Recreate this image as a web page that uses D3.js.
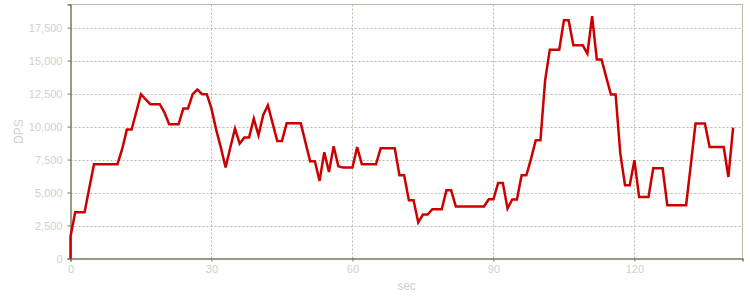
<!DOCTYPE html>
<html>
<head>
<meta charset="utf-8">
<script src="https://cdn.jsdelivr.net/npm/d3@7"></script>
<style>
  html, body { margin: 0; padding: 0; background: #ffffff; }
  svg { display: block; }
  text { font-family: "Liberation Sans", Arial, sans-serif; }
</style>
</head>
<body>
<svg id="chart" width="750" height="300"></svg>
<script>
// ---- data ----
const seconds = [0, 0, 1, 2, 3, 4, 5, 6, 7, 8, 9, 10, 11, 12, 13, 14, 15, 16, 17, 18, 19,
  20, 21, 22, 23, 24, 25, 26, 27, 28, 29, 30, 31, 32, 33, 34, 35, 36, 37, 38, 39,
  40, 41, 42, 43, 44, 45, 46, 47, 48, 49, 50, 51, 52, 53, 54, 55, 56, 57, 58, 59,
  60, 61, 62, 63, 64, 65, 66, 67, 68, 69, 70, 71, 72, 73, 74, 75, 76, 77, 78, 79,
  80, 81, 82, 83, 84, 85, 86, 87, 88, 89, 90, 91, 92, 93, 94, 95, 96, 97, 98, 99,
  100, 101, 102, 103, 104, 105, 106, 107, 108, 109, 110, 111, 112, 113, 114, 115, 116, 117, 118, 119,
  120, 121, 122, 123, 124, 125, 126, 127, 128, 129, 130, 131, 132, 133, 134, 135, 136, 137, 138, 139,
  140, 141];
const dps = [0, 1650, 3500, 3500, 3500, 5350, 7150, 7150, 7150, 7150, 7150, 7150, 8300, 9770, 9770, 11100, 12450, 12050, 11690, 11690, 11690,
  11060, 10175, 10175, 10175, 11360, 11360, 12450, 12800, 12450, 12450, 11360, 9770, 8400, 6900, 8400, 9850, 8710, 9170, 9170, 10600,
  9340, 10860, 11610, 10260, 8910, 8910, 10250, 10250, 10250, 10250, 8800, 7370, 7370, 5880, 8050, 6560, 8510, 6990, 6890, 6890,
  6890, 8450, 7140, 7140, 7140, 7140, 8350, 8350, 8350, 8350, 6310, 6310, 4420, 4420, 2730, 3330, 3330, 3730, 3730, 3730,
  5170, 5170, 3940, 3940, 3940, 3940, 3940, 3940, 3940, 4490, 4490, 5730, 5730, 3790, 4470, 4470, 6310, 6310, 7550, 8960,
  8960, 13500, 15830, 15830, 15830, 18050, 18050, 16160, 16160, 16160, 15530, 18360, 15080, 15080, 13750, 12430, 12430, 7950, 5550, 5550,
  7450, 4670, 4670, 4670, 6840, 6840, 6840, 4040, 4040, 4040, 4040, 4040, 7100, 10230, 10230, 10230, 8450, 8450, 8450, 8450,
  6180, 9920];
const yTicks = [0, 2500, 5000, 7500, 10000, 12500, 15000, 17500];
const xTicks = [0, 30, 60, 90, 120];
const xTitle = "sec";
const yTitle = "DPS";

(function () {
  // ---- layout ----
  const svg = d3.select("#chart");
  const pLeft = 70.5, pRight = 742.5, pTop = 4.5, pBottom = 258.5;

  const x = d3.scaleLinear().domain([0, 143]).range([pLeft, pRight]);
  const y = d3.scaleLinear().domain([0, 19250]).range([pBottom, pTop]);

  const gridColor = "#b9b9a9";
  const axisColor = "#77775c";
  const frameColor = "#b9b9a6";
  const labelColor = "#cfcfcf";

  // grid lines
  svg.append("g")
    .selectAll("line")
    .data(yTicks.filter(d => d > 0))
    .join("line")
    .attr("x1", pLeft).attr("x2", pRight)
    .attr("y1", d => Math.round(y(d)) + 0.5).attr("y2", d => Math.round(y(d)) + 0.5)
    .attr("stroke", gridColor).attr("stroke-width", 1)
    .attr("stroke-dasharray", "2,2");

  svg.append("g")
    .selectAll("line")
    .data(xTicks.filter(d => d > 0))
    .join("line")
    .attr("x1", d => Math.round(x(d)) + 0.5).attr("x2", d => Math.round(x(d)) + 0.5)
    .attr("y1", pTop).attr("y2", pBottom)
    .attr("stroke", gridColor).attr("stroke-width", 1)
    .attr("stroke-dasharray", "2,2");

  // frame (top & right)
  svg.append("line").attr("x1", pLeft).attr("x2", pRight).attr("y1", pTop).attr("y2", pTop)
    .attr("stroke", frameColor).attr("stroke-width", 1);
  svg.append("line").attr("x1", pRight).attr("x2", pRight).attr("y1", pTop).attr("y2", pBottom)
    .attr("stroke", frameColor).attr("stroke-width", 1);

  // axes
  const xAxis = d3.axisBottom(x).tickValues(xTicks).tickSize(3).tickPadding(4)
    .tickFormat(d3.format("d"));
  const yAxis = d3.axisLeft(y).tickValues(yTicks).tickSize(3).tickPadding(5)
    .tickFormat(d3.format(","));

  const gx = svg.append("g").attr("transform", `translate(0,${pBottom})`).call(xAxis);
  const gy = svg.append("g").attr("transform", `translate(${pLeft},0)`).call(yAxis);

  [gx, gy].forEach(g => {
    g.select(".domain").attr("stroke", axisColor).attr("stroke-width", 1.5);
    g.selectAll(".tick line").attr("stroke", axisColor);
    g.selectAll(".tick text")
      .attr("fill", labelColor)
      .style("font-family", '"Liberation Sans", Arial, sans-serif')
      .style("font-size", "11px");
  });

  // line
  const line = d3.line()
    .x((d, i) => x(seconds[i]))
    .y(d => y(d));

  svg.append("path")
    .datum(dps)
    .attr("fill", "none")
    .attr("stroke", "#cc0000")
    .attr("stroke-width", 2.5)
    .attr("stroke-linejoin", "miter")
    .attr("d", line);

  // titles
  svg.append("text")
    .attr("x", (pLeft + pRight) / 2)
    .attr("y", 290)
    .attr("text-anchor", "middle")
    .attr("fill", labelColor)
    .style("font-size", "12px")
    .text(xTitle);

  svg.append("text")
    .attr("transform", `translate(23,${(pTop + pBottom) / 2}) rotate(-90)`)
    .attr("text-anchor", "middle")
    .attr("fill", labelColor)
    .style("font-size", "12px")
    .text(yTitle);
})();
</script>
</body>
</html>
